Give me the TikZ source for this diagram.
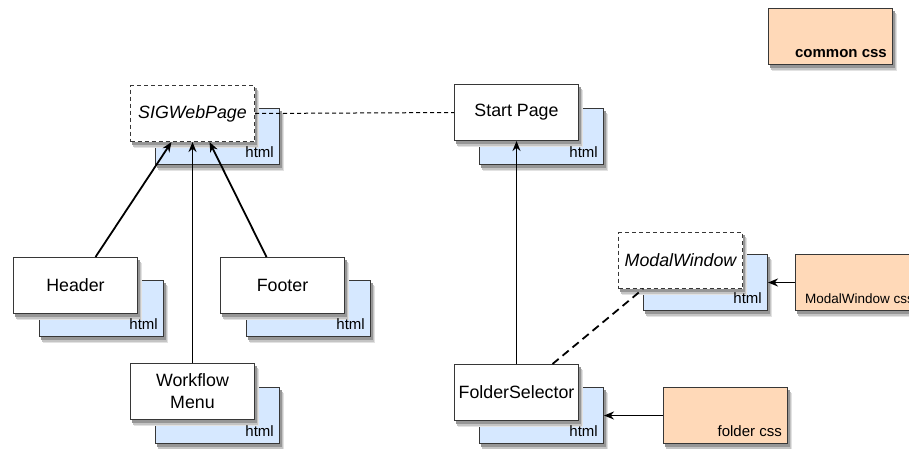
\documentclass[tikz,border=0pt]{standalone}
\usepackage{fontspec}
\setmainfont{Liberation Sans}
\usetikzlibrary{arrows.meta}

\definecolor{htmlblue}{RGB}{214,232,255}
\definecolor{csspeach}{RGB}{255,217,184}
\definecolor{edgegray}{RGB}{55,55,55}
\definecolor{shadowfar}{RGB}{226,226,226}
\definecolor{shadowmid}{RGB}{196,196,196}
\definecolor{shadownear}{RGB}{150,150,150}

\pgfdeclarelayer{backshade}
\pgfdeclarelayer{backbox}
\pgfdeclarelayer{frontshade}
\pgfsetlayers{backshade,backbox,frontshade,main}

% soft shadow below and right of a box, in three flat layers
\newcommand\castshadow[1]{%
  \fill[shadowfar] ([shift={(3.5pt,-6pt)}]#1.north west) rectangle ([shift={(3.5pt,-6pt)}]#1.south east);
  \fill[shadowmid] ([shift={(2.5pt,-4.5pt)}]#1.north west) rectangle ([shift={(2.5pt,-4.5pt)}]#1.south east);
  \fill[shadownear] ([shift={(1.5pt,-2.5pt)}]#1.north west) rectangle ([shift={(1.5pt,-2.5pt)}]#1.south east);}

\tikzset{
  pagebox/.style={draw=edgegray, line width=1pt, fill=white,
      minimum width=124pt, minimum height=56pt, inner sep=0pt,
      anchor=north west, align=center,
      font=\fontsize{17.8}{22}\selectfont},
  htmlbox/.style={pagebox, fill=htmlblue},
  cssbox/.style={pagebox, fill=csspeach},
  abstractbox/.style={pagebox, dash pattern=on 4pt off 3pt,
      font=\fontsize{17.8}{22}\selectfont\itshape},
  tag/.style={anchor=south east, inner xsep=6pt, inner ysep=7pt,
      text depth=0pt, font=\fontsize{15}{18}\selectfont},
  uses/.style={line width=1.8pt, -{Stealth[length=10pt, width=8pt]}},
  link/.style={line width=1pt, dash pattern=on 4pt off 3pt},
  weaklink/.style={line width=1.8pt, dash pattern=on 8pt off 5pt}
}

\begin{document}
\begin{tikzpicture}[x=1pt, y=-1pt]
\useasboundingbox (0,0) rectangle (909,448);

% html files behind each page
\begin{pgfonlayer}{backbox}
\node[htmlbox] (sigB) at (155,108) {};
\node[htmlbox] (hdrB) at (39,280) {};
\node[htmlbox] (ftrB) at (246,280) {};
\node[htmlbox] (wfB) at (155,387) {};
\node[htmlbox] (spB) at (479,108) {};
\node[htmlbox] (mwB) at (643,254) {};
\node[htmlbox] (fsB) at (479,387) {};
\end{pgfonlayer}

% pages
\node[abstractbox] (sig) at (130,85) {SIGWebPage};
\node[pagebox] (hdr) at (13,257) {Header};
\node[pagebox] (ftr) at (220,257) {Footer};
\node[pagebox] (wf) at (130,363) {Workflow\\Menu};
\node[pagebox] (sp) at (454,84) {Start Page};
\node[abstractbox] (mw) at (618,232) {ModalWindow};
\node[pagebox] (fs) at (454,364) {FolderSelector};

% stylesheets
\node[cssbox] (common) at (768,8) {};
\node[cssbox] (fcss) at (663,387) {};
\node[cssbox] (mcss) at (795,254) {};

% file type labels
\node[tag] (sigT) at (sigB.south east) {html};
\node[tag] (hdrT) at (hdrB.south east) {html};
\node[tag] (ftrT) at (ftrB.south east) {html};
\node[tag] (wfT) at (wfB.south east) {html};
\node[tag] (spT) at (spB.south east) {html};
\node[tag] (mwT) at (mwB.south east) {html};
\node[tag] (fsT) at (fsB.south east) {html};
\node[tag, font=\fontsize{15}{18}\selectfont\bfseries] (commonT) at (common.south east) {common css};
\node[tag] (fcssT) at (fcss.south east) {folder css};
\node[tag, font=\fontsize{13.5}{16}\selectfont] (mcssT) at (mcss.south east) {ModalWindow css};

% shadows
\begin{pgfonlayer}{backshade}
\castshadow{sigB}\castshadow{hdrB}\castshadow{ftrB}\castshadow{wfB}
\castshadow{spB}\castshadow{mwB}\castshadow{fsB}
\end{pgfonlayer}
\begin{pgfonlayer}{frontshade}
\castshadow{sig}\castshadow{hdr}\castshadow{ftr}\castshadow{wf}
\castshadow{sp}\castshadow{mw}\castshadow{fs}
\castshadow{common}\castshadow{fcss}\castshadow{mcss}
\end{pgfonlayer}

% connectors
\draw[link] (sig.east) -- (sp.west);
\draw[uses] ([xshift=20pt]hdr.north) -- ([xshift=-21pt]sig.south);
\draw[uses] (wf.north) -- (sig.south);
\draw[uses] ([xshift=-16pt]ftr.north) -- ([xshift=17pt]sig.south);
\draw[uses] (fs.north) -- (sp.south);
\draw[weaklink] ([xshift=36pt]fs.north) -- ([xshift=25pt]mw.south west);
\draw[uses] (fcss.west) -- (fsB.east |- fcss.west);
\draw[uses] (mcss.west) -- (mwB.east |- mcss.west);
\end{tikzpicture}
\end{document}
